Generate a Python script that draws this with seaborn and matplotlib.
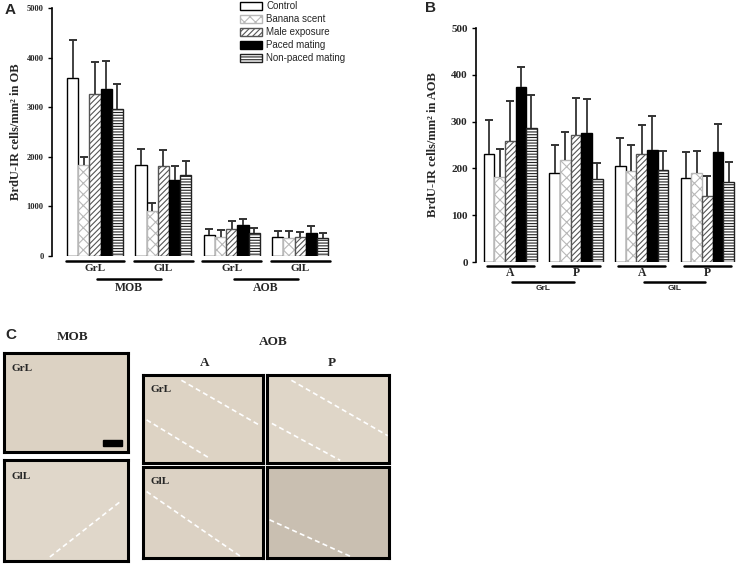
import numpy as np
import pandas as pd
import seaborn as sns
import matplotlib
matplotlib.use("Agg")
import matplotlib.pyplot as plt
from matplotlib.patches import Patch, Rectangle
from matplotlib.transforms import blended_transform_factory

# ---------------- data ----------------
treatments = ["Control", "Banana scent", "Male exposure", "Paced mating", "Non-paced mating"]

groups_a = ["MOB GrL", "MOB GlL", "AOB GrL", "AOB GlL"]
mean_a_control = [3590, 1840, 415, 375]
mean_a_banana = [1830, 910, 375, 370]
mean_a_male = [3260, 1815, 535, 375]
mean_a_paced = [3375, 1540, 630, 455]
mean_a_nonpaced = [2955, 1640, 455, 362]
top_a_control = [4345, 2150, 550, 495]
top_a_banana = [2000, 1070, 520, 495]
top_a_male = [3915, 2145, 705, 475]
top_a_paced = [3935, 1820, 755, 605]
top_a_nonpaced = [3465, 1920, 570, 455]

groups_b = ["GrL A", "GrL P", "GlL A", "GlL P"]
mean_b_control = [231, 190, 205, 180]
mean_b_banana = [181, 218, 195, 190]
mean_b_male = [259, 271, 231, 141]
mean_b_paced = [374, 276, 239, 234]
mean_b_nonpaced = [287, 177, 197, 171]
top_b_control = [303, 251, 265, 235]
top_b_banana = [241, 278, 251, 237]
top_b_male = [345, 350, 293, 183]
top_b_paced = [416, 349, 311, 295]
top_b_nonpaced = [357, 211, 237, 213]

sub_labels_a = ["GrL", "GlL", "GrL", "GlL"]
region_labels_a = ["MOB", "AOB"]
sub_labels_b = ["A", "P", "A", "P"]
region_labels_b = ["GrL", "GlL"]

# ---------------- style ----------------
sns.set_theme(style="white")
plt.rcParams["font.family"] = ["Liberation Serif", "DejaVu Serif"]
plt.rcParams["hatch.linewidth"] = 0.8
SERIF = ["Liberation Serif", "DejaVu Serif"]
SANS = ["Liberation Sans", "DejaVu Sans"]

styles = {
    "Control": dict(facecolor="white", edgecolor="black", hatch=None),
    "Banana scent": dict(facecolor="white", edgecolor="#b8b8b8", hatch="xxx"),
    "Male exposure": dict(facecolor="white", edgecolor="#555555", hatch="//////"),
    "Paced mating": dict(facecolor="black", edgecolor="black", hatch=None),
    "Non-paced mating": dict(facecolor="white", edgecolor="#222222", hatch="------"),
}

W, H = 737, 567
fig = plt.figure(figsize=(W / 100, H / 100), dpi=100)


def px_rect(x0, y0, x1, y1):
    return [x0 / W, 1 - y1 / H, (x1 - x0) / W, (y1 - y0) / H]


def fy(py):
    return 1 - py / H


def make_df(groups, means, tops):
    rows = []
    for t, m, tp in zip(treatments, means, tops):
        for g, v, u in zip(groups, m, tp):
            rows.append(dict(group=g, treatment=t, value=v, top=u))
    return pd.DataFrame(rows)


def draw_bars(ax, df, groups, width):
    sns.barplot(data=df, x="group", y="value", hue="treatment", order=groups,
                hue_order=treatments, width=width, dodge=True, legend=False,
                errorbar=None, ax=ax, linewidth=1.0, saturation=1)
    for t, cont in zip(treatments, ax.containers):
        st = styles[t]
        sub = df[df.treatment == t].set_index("group").loc[groups]
        xs, ys, tops = [], [], []
        for bar, (g, r) in zip(cont, sub.iterrows()):
            bar.set_facecolor(st["facecolor"])
            bar.set_edgecolor(st["edgecolor"])
            if st["hatch"]:
                bar.set_hatch(st["hatch"])
            xs.append(bar.get_x() + bar.get_width() / 2)
            ys.append(r["value"])
            tops.append(r["top"])
        ax.vlines(xs, ys, tops, color="#333333", lw=1.3, zorder=1)
        ax.plot(xs, tops, ls="none", marker="_", ms=6, mew=1.4,
                color="#333333", zorder=1)


def style_axis(ax, ylim, yticks, tick_fs):
    ax.set_ylim(*ylim)
    ax.set_yticks(yticks)
    ax.set_yticklabels([str(v) for v in yticks], fontsize=tick_fs,
                       fontweight="bold", family=SERIF)
    ax.set_xticks([])
    ax.set_xlabel("")
    for s in ["top", "right", "bottom"]:
        ax.spines[s].set_visible(False)
    ax.spines["left"].set_color("black")
    ax.spines["left"].set_linewidth(1.2)
    ax.tick_params(axis="y", direction="out", length=3, width=1.0,
                   color="black", pad=3, left=True)
    ax.set_facecolor("white")


def group_lines(ax, n, half, y1, y2, t1, t2, sub_labels, region_labels,
                fs1, fs2, fam2, fw2):
    tr = blended_transform_factory(ax.transData, fig.transFigure)
    for i in range(n):
        ax.plot([i - half, i + half], [fy(y1), fy(y1)], color="black", lw=1.8,
                transform=tr, clip_on=False)
        ax.text(i, fy(t1), sub_labels[i], transform=tr, ha="center", va="center",
                fontsize=fs1, fontweight="bold", family=SERIF)
    for k, lab in enumerate(region_labels):
        a, b = 2 * k, 2 * k + 1
        ax.plot([a + 0.03, b - 0.03], [fy(y2), fy(y2)], color="black", lw=1.8,
                transform=tr, clip_on=False)
        ax.text((a + b) / 2, fy(t2), lab, transform=tr, ha="center", va="center",
                fontsize=fs2, fontweight=fw2, family=fam2)


# ---------------- panel A ----------------
axA = fig.add_axes(px_rect(52, 8, 335, 256))
dfA = make_df(groups_a,
              [mean_a_control, mean_a_banana, mean_a_male, mean_a_paced, mean_a_nonpaced],
              [top_a_control, top_a_banana, top_a_male, top_a_paced, top_a_nonpaced])
draw_bars(axA, dfA, groups_a, 0.82)
style_axis(axA, (0, 5000), [0, 1000, 2000, 3000, 4000, 5000], 6)
axA.set_xlim(-0.63, 3.51)
axA.set_ylabel("BrdU-IR cells/mm² in OB", fontsize=9,
               fontweight="bold", family=SERIF)
axA.yaxis.set_label_coords(-0.105, 0.5)
group_lines(axA, 4, 0.43, 261, 279, 269, 288, sub_labels_a, region_labels_a,
            8, 8.5, SERIF, "bold")

handles = [Patch(facecolor=styles[t]["facecolor"], edgecolor=styles[t]["edgecolor"],
                 hatch=styles[t]["hatch"], linewidth=1.0, label=t) for t in treatments]
fig.legend(handles=handles, loc="upper left", bbox_to_anchor=(240 / W, fy(1)),
           frameon=False, prop=dict(family=SANS, size=7), handlelength=2.3,
           handleheight=0.85, labelspacing=0.32, handletextpad=0.4, borderpad=0.0,
           borderaxespad=0.0)

# ---------------- panel B ----------------
axB = fig.add_axes(px_rect(476, 28, 737, 262))
dfB = make_df(groups_b,
              [mean_b_control, mean_b_banana, mean_b_male, mean_b_paced, mean_b_nonpaced],
              [top_b_control, top_b_banana, top_b_male, top_b_paced, top_b_nonpaced])
draw_bars(axB, dfB, groups_b, 0.81)
style_axis(axB, (0, 500), [0, 100, 200, 300, 400, 500], 8)
axB.set_xlim(-0.52, 3.45)
axB.set_ylabel("BrdU-IR cells/mm² in AOB", fontsize=9,
               fontweight="bold", family=SERIF)
axB.yaxis.set_label_coords(-0.142, 0.5)
group_lines(axB, 4, 0.36, 266, 282, 273, 289, sub_labels_b, region_labels_b,
            8.5, 6, SANS, "bold")

# ---------------- panel letters ----------------
fig.text(5 / W, fy(10), "A", fontsize=11, fontweight="bold", family=SANS,
         ha="left", va="center")
fig.text(425 / W, fy(8), "B", fontsize=11, fontweight="bold", family=SANS,
         ha="left", va="center")
fig.text(5 / W, fy(335), "C", fontsize=11, fontweight="bold", family=SANS,
         ha="left", va="center")

# ---------------- panel C (micrograph placeholders) ----------------
fig.text(73 / W, fy(337), "MOB", fontsize=9.5, fontweight="bold", family=SERIF,
         ha="center", va="center")
fig.text(273 / W, fy(342), "AOB", fontsize=9.5, fontweight="bold", family=SERIF,
         ha="center", va="center")
fig.text(205 / W, fy(363), "A", fontsize=9.5, fontweight="bold", family=SERIF,
         ha="center", va="center")
fig.text(332 / W, fy(363), "P", fontsize=9.5, fontweight="bold", family=SERIF,
         ha="center", va="center")

boxes = [
    dict(r=(4, 353, 128, 452), lab="GrL", color="#dcd2c3",
         lines=[], bar=True),
    dict(r=(4, 460, 128, 561), lab="GlL", color="#e0d7ca",
         lines=[((0.37, 0.04), (0.95, 0.6))], bar=False),
    dict(r=(143, 375, 263, 463), lab="GrL", color="#ddd3c4",
         lines=[((0.32, 0.94), (0.97, 0.43)), ((0.03, 0.49), (0.56, 0.05))], bar=False),
    dict(r=(267, 375, 389, 463), lab=None, color="#dfd6c8",
         lines=[((0.2, 0.94), (0.99, 0.31)), ((0.04, 0.45), (0.6, 0.03))], bar=False),
    dict(r=(143, 467, 263, 558), lab="GlL", color="#dcd2c4",
         lines=[((0.03, 0.73), (0.81, 0.02))], bar=False),
    dict(r=(267, 467, 389, 558), lab=None, color="#c9bfb1",
         lines=[((0.02, 0.42), (0.68, 0.02))], bar=False),
]
for b in boxes:
    ax = fig.add_axes(px_rect(*b["r"]))
    ax.set_facecolor(b["color"])
    ax.set_xlim(0, 1)
    ax.set_ylim(0, 1)
    ax.set_xticks([])
    ax.set_yticks([])
    for s in ax.spines.values():
        s.set_visible(True)
        s.set_color("black")
        s.set_linewidth(2.2)
    for (p, q) in b["lines"]:
        ax.plot([p[0], q[0]], [p[1], q[1]], color="white", lw=1.2, ls=(0, (3, 2)))
    if b["lab"]:
        ax.text(0.06, 0.84, b["lab"], transform=ax.transAxes, fontsize=8,
                fontweight="bold", family=SERIF, ha="left", va="center")
    if b["bar"]:
        ax.add_patch(Rectangle((0.8, 0.06), 0.15, 0.065, color="black"))

fig.savefig("out.png", dpi=100)
